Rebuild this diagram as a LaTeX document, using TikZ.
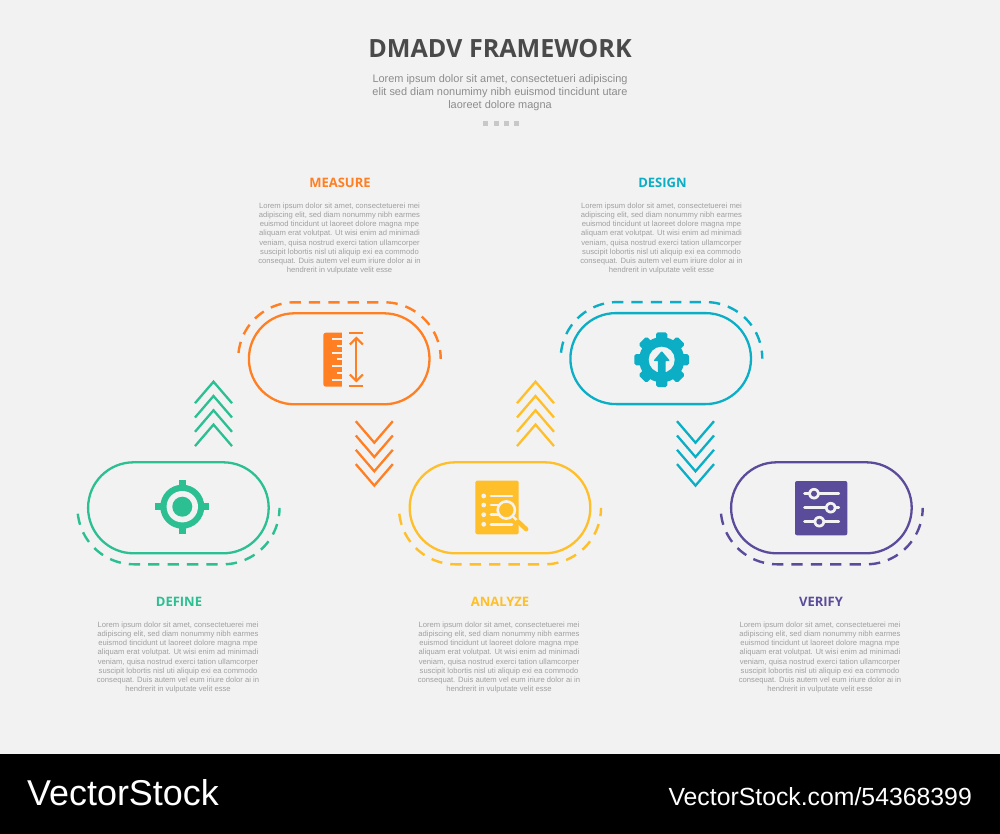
\documentclass[tikz,border=0pt]{standalone}
\usepackage{fontspec}
\usetikzlibrary{shapes.misc}
\setmainfont{Liberation Sans}
\newfontfamily\headfont{Open Sans}
\definecolor{bgc}{HTML}{F2F2F2}
\definecolor{cgreen}{HTML}{2BBF92}
\definecolor{corange}{HTML}{FF7F22}
\definecolor{cyellow}{HTML}{FFBF2A}
\definecolor{cteal}{HTML}{0BAEC4}
\definecolor{cpurple}{HTML}{5B4B9B}
\definecolor{ctitle}{HTML}{4A4A4A}
\definecolor{csub}{HTML}{8C8C8C}
\definecolor{cbody}{HTML}{A0A0A0}
\definecolor{cdots}{HTML}{C8C8C8}
\tikzset{
  stadium/.style={rounded rectangle,draw=#1,line width=2.3pt,minimum width=180.6pt,minimum height=91pt,inner sep=0pt,outer sep=0pt},
  dashring/.style={draw=#1,line width=2.4pt,dash pattern=on 11.3pt off 8.1pt},
  chev/.style={draw=#1,line width=2.3pt},
  heading/.style={text=#1,font=\headfont\bfseries\fontsize{13}{14}\selectfont,inner sep=0pt},
  bodytext/.style={text=cbody,align=center,inner sep=0pt,font=\fontsize{7.65}{9.17}\selectfont},
}
\newcommand{\chevrons}[4]{% x, first apex y, direction of arms (+1 up-chevron, -1 down-chevron), colour
  \foreach \i in {0,1,2,3}{
    \draw[chev=#4,miter limit=10] (#1-18.5,{#2+\i*14.3+#3*21.5}) -- (#1,{#2+\i*14.3}) -- (#1+18.5,{#2+\i*14.3+#3*21.5});
  }}
\newcommand{\ringbottom}[4]{% xL, xR, cy, colour
  \draw[dashring=#4] plot[smooth,domain=174:90,samples=40] ({#1+56.5*cos(\x)},{#3+56.5*sin(\x)})
    -- plot[smooth,domain=90:0,samples=40] ({#2+56.5*cos(\x)},{#3+56.5*sin(\x)});}
\newcommand{\ringtop}[4]{%
  \draw[dashring=#4] plot[smooth,domain=186:270,samples=40] ({#1+56.5*cos(\x)},{#3+56.5*sin(\x)})
    -- plot[smooth,domain=270:360,samples=40] ({#2+56.5*cos(\x)},{#3+56.5*sin(\x)});}
\newcommand{\loremtext}{Lorem ipsum dolor sit amet, consectetuerei mei\\adipiscing elit, sed diam nonummy nibh earmes\\euismod tincidunt ut laoreet dolore magna mpe\\aliquam erat volutpat. Ut wisi enim ad minimadi\\veniam, quisa nostrud exerci tation ullamcorper\\suscipit lobortis nisl uti aliquip exi ea commodo\\consequat. Duis autem vel eum iriure dolor ai in\\hendrerit in vulputate velit esse}
\begin{document}
\begin{tikzpicture}[x=1pt,y=-1pt]
\useasboundingbox (0,0) rectangle (1000,834);
\fill[bgc] (0,0) rectangle (1000,834);
\fill[black] (0,754) rectangle (1000,834);
% header
\node[text=ctitle,inner sep=0pt,font=\headfont\bfseries\fontsize{25.1}{28}\selectfont] (title) at (500,48.5) {DMADV FRAMEWORK};
\node[text=csub,align=center,inner sep=0pt,font=\fontsize{10.95}{13}\selectfont] (subtitle) at (500,92.5) {Lorem ipsum dolor sit amet, consectetueri adipiscing\\elit sed diam nonumimy nibh euismod tincidunt utare\\laoreet dolore magna};
\foreach \i in {0,1,2,3}{\fill[cdots] ({483.3+\i*10.3},121) rectangle ++(5,5);}
% stadiums
\node[stadium=cgreen] (define) at (178.4,507.8) {};
\node[stadium=corange] (measure) at (339.2,358.8) {};
\node[stadium=cyellow] (analyze) at (500,507.8) {};
\node[stadium=cteal] (design) at (660.7,358.6) {};
\node[stadium=cpurple] (verify) at (821.4,507.8) {};
% dashed rings
\ringbottom{134}{223}{507.8}{cgreen}
\ringtop{294.7}{384.2}{358.8}{corange}
\ringbottom{455.5}{544.5}{507.8}{cyellow}
\ringtop{617.2}{705.8}{358.6}{cteal}
\ringbottom{777.2}{866.2}{507.8}{cpurple}
% chevrons
\chevrons{213.5}{381.7}{1}{cgreen}
\chevrons{374.3}{442.7}{-1}{corange}
\chevrons{535.5}{381.7}{1}{cyellow}
\chevrons{695.5}{442.7}{-1}{cteal}
% headings and text
\node[heading=corange] (h1) at (340,183) {MEASURE};
\node[heading=cteal] (h2) at (662.5,183) {DESIGN};
\node[heading=cgreen] (h3) at (179,602) {DEFINE};
\node[heading=cyellow] (h4) at (500,602) {ANALYZE};
\node[heading=cpurple] (h5) at (821,602) {VERIFY};
\node[bodytext] (t1) at (339.5,238.5) {\loremtext};
\node[bodytext] (t2) at (661.5,238.5) {\loremtext};
\node[bodytext] (t3) at (178,657.5) {\loremtext};
\node[bodytext] (t4) at (499,657.5) {\loremtext};
\node[bodytext] (t5) at (820,657.5) {\loremtext};
% target icon
\fill[cgreen] (182.3,506.7) circle (22);
\fill[cgreen] (178.8,479.7) rectangle (185.8,533.7);
\fill[cgreen] (155.3,503.2) rectangle (209.3,510.2);
\fill[bgc] (182.3,506.7) circle (15.7);
\fill[cgreen] (182.3,506.7) circle (10);
% ruler icon
\fill[corange,rounded corners=2.5pt] (323.3,332.7) rectangle (350,386.7);
\fill[bgc] (342,331) rectangle (352,388);
\foreach \yy/\xx in {339.3/331.7,346/336.7,353/331.7,359.3/336.7,366.3/331.7,373/336.7,379.7/331.7}{
  \draw[bgc,line width=2.1pt] (\xx,\yy) -- (342.2,\yy);}
\draw[corange,line width=2.3pt] (349.3,333.3) -- (363,333.3);
\draw[corange,line width=2.3pt] (349.3,385.7) -- (363,385.7);
\draw[corange,line width=2pt] (356.3,338) -- (356.3,381);
\draw[corange,line width=2.1pt] (349.8,344.5) -- (356.3,338) -- (362.8,344.5);
\draw[corange,line width=2.1pt] (349.8,374.5) -- (356.3,381) -- (362.8,374.5);
% document icon
\fill[cyellow,rounded corners=1.5pt] (475.3,480.7) rectangle (518.7,534.3);
\foreach \yy in {496,505,514.7,524.3}{\fill[bgc] (483.7,\yy) circle (2.4);}
\draw[bgc,line width=2.7pt,line cap=round] (491,496) -- (512,496);
\draw[bgc,line width=2.7pt,line cap=round] (491,524.3) -- (512,524.3);
\draw[bgc,line width=2.7pt,line cap=round] (491,505) -- (500,505);
\draw[bgc,line width=2.7pt,line cap=round] (491,514.7) -- (500,514.7);
\fill[cyellow] (506.3,510) circle (9);
\draw[bgc,line width=2.6pt] (506.3,510) circle (8.6);
\draw[bgc,line width=2.4pt] (512.5,516) -- (517.5,521);
\draw[cyellow,line width=4.4pt,line cap=round] (518,521.5) -- (526.2,529.2);
% gear icon
\foreach \a in {0,45,...,315}{
  \fill[cteal,rounded corners=1.8pt,rotate around={\a:(661.7,359.7)}] (656,332.4) rectangle (667.4,345);}
\fill[cteal] (661.7,359.7) circle (22.6);
\fill[bgc] (661.7,359.7) circle (13);
\fill[cteal,rounded corners=0.8pt] (661.7,351) -- (670,360.8) -- (665.5,360.8) -- (665.5,376) -- (657.9,376) -- (657.9,360.8) -- (653.4,360.8) -- cycle;
% sliders icon
\fill[cpurple,rounded corners=2pt] (795,481) rectangle (847.3,535.3);
\foreach \yy/\xx in {493.7/814,507.7/830.7,521.7/819.3}{
  \draw[bgc,line width=2.7pt,line cap=round] (804.5,\yy) -- (838.8,\yy);
  \fill[bgc] (\xx,\yy) circle (5.8);
  \fill[cpurple] (\xx,\yy) circle (3);}
% footer
\node[text=white,anchor=west,inner sep=0pt,font=\fontsize{35.9}{40}\selectfont] (logo) at (27,793) {VectorStock};
\node[text=white,anchor=east,inner sep=0pt,font=\fontsize{24.8}{26}\selectfont] (ref) at (972,797) {VectorStock.com/54368399};
\end{tikzpicture}
\end{document}
